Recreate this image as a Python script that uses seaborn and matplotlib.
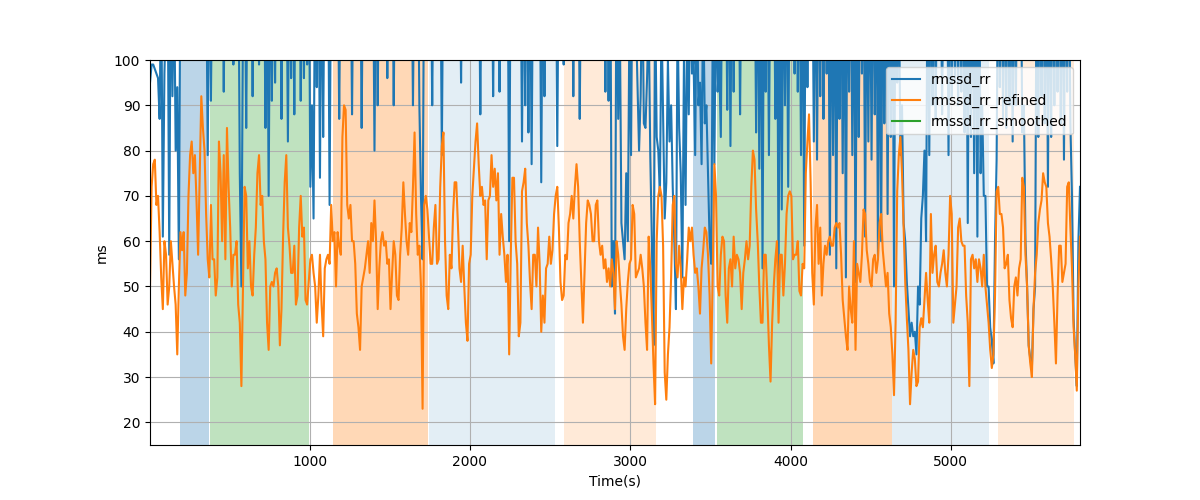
import numpy as np
import matplotlib
matplotlib.use("Agg")
import matplotlib.pyplot as plt
import seaborn as sns

# sampling: first timestamp and interval (s)
t_start = 5
t_step = 10

rmssd_rr_refined = [
    # 5 .. 1005 s
    50, 72, 77, 78, 68, 70, 62, 52, 45, 60, 57, 46, 50, 60, 55, 50, 46, 35, 50, 62,
    58, 62, 48, 53, 70, 79, 82, 75, 79, 69, 57, 75, 92, 85, 80, 66, 56, 52, 68, 56,
    56, 48, 52, 82, 75, 60, 79, 56, 85, 72, 63, 50, 57, 57, 60, 46, 42, 28, 50, 72,
    70, 54, 60, 50, 48, 57, 63, 75, 79, 68, 70, 60, 56, 42, 36, 50, 51, 50, 53, 54,
    50, 37, 45, 61, 73, 79, 63, 59, 53, 53, 59, 46, 48, 63, 70, 61, 63, 47, 46, 51,
    56,
    # 1015 .. 2005 s
    57, 53, 50, 42, 48, 57, 46, 39, 54, 56, 57, 55, 68, 60, 62, 50, 62, 59, 57, 83,
    90, 89, 68, 65, 68, 60, 60, 55, 44, 41, 36, 50, 52, 54, 57, 60, 53, 64, 60, 69,
    60, 45, 54, 60, 62, 59, 60, 55, 56, 45, 53, 60, 57, 48, 47, 57, 63, 73, 66, 60,
    57, 64, 62, 72, 84, 66, 57, 59, 50, 23, 68, 70, 67, 61, 55, 55, 63, 68, 55, 56,
    72, 81, 84, 60, 48, 45, 57, 54, 66, 73, 73, 64, 54, 51, 59, 50, 42, 38, 55, 57,
    # 2015 .. 3005 s
    70, 76, 82, 86, 77, 70, 72, 68, 69, 56, 69, 70, 79, 72, 76, 69, 75, 57, 66, 61,
    57, 51, 57, 35, 57, 74, 74, 60, 55, 39, 42, 71, 73, 76, 64, 59, 51, 45, 57, 57,
    50, 63, 55, 40, 48, 42, 54, 55, 61, 55, 58, 66, 70, 72, 63, 51, 47, 48, 57, 56,
    64, 66, 70, 65, 72, 77, 72, 60, 51, 42, 53, 64, 69, 68, 66, 60, 60, 68, 69, 60,
    57, 59, 54, 56, 51, 54, 50, 56, 53, 45, 60, 57, 51, 46, 39, 36, 45, 51, 55, 56,
    # 3015 .. 4005 s
    68, 66, 52, 53, 54, 57, 54, 50, 42, 36, 61, 54, 44, 33, 24, 60, 70, 72, 70, 59,
    31, 25, 35, 41, 52, 68, 70, 55, 52, 59, 54, 45, 52, 50, 56, 63, 60, 63, 57, 53,
    54, 50, 44, 54, 58, 63, 62, 57, 48, 33, 54, 77, 70, 50, 48, 57, 61, 60, 48, 42,
    54, 56, 50, 61, 54, 57, 56, 53, 45, 53, 56, 60, 56, 59, 72, 80, 78, 67, 60, 50,
    42, 42, 57, 57, 48, 37, 29, 42, 50, 56, 60, 42, 57, 57, 48, 55, 66, 70, 71, 70,
    # 4015 .. 5005 s
    56, 57, 57, 60, 49, 48, 55, 54, 75, 82, 88, 73, 53, 46, 63, 68, 55, 63, 48, 55,
    59, 57, 60, 61, 59, 59, 63, 64, 63, 64, 57, 47, 43, 39, 36, 50, 45, 42, 60, 36,
    55, 53, 51, 57, 67, 66, 58, 55, 51, 50, 56, 57, 53, 56, 64, 66, 58, 54, 50, 53,
    44, 41, 35, 26, 42, 71, 79, 83, 75, 63, 51, 43, 36, 24, 31, 36, 34, 28, 29, 41,
    43, 41, 47, 53, 47, 42, 66, 53, 57, 59, 51, 50, 53, 55, 58, 53, 50, 57, 70, 66,
    # 5015 .. 5805 s
    42, 46, 50, 63, 65, 60, 59, 59, 48, 42, 28, 56, 57, 54, 56, 51, 56, 54, 50, 57,
    50, 46, 42, 36, 32, 35, 48, 71, 72, 66, 66, 63, 54, 55, 57, 47, 43, 41, 50, 52,
    48, 54, 56, 74, 72, 57, 50, 37, 33, 30, 45, 53, 57, 64, 67, 69, 75, 73, 72, 64,
    61, 56, 50, 42, 33, 48, 59, 59, 51, 53, 55, 72, 73, 63, 54, 41, 35, 27, 50, 61,
]

rmssd_rr = [
    # 5 .. 1005 s
    95, 99, 99, 98, 97, 96, 87, 120, 61, 97, 112, 120, 57, 125, 92, 120, 80, 94, 56, 125,
    118, 130, 125, 130, 130, 130, 122, 130, 115, 130, 128, 130, 120, 130, 119, 125, 79, 130, 91, 130,
    108, 130, 114, 130, 102, 130, 93, 130, 116, 130, 105, 130, 99, 130, 108, 130, 75, 50, 110, 130,
    85, 130, 106, 130, 92, 130, 113, 130, 99, 130, 104, 130, 85, 130, 70, 130, 91, 130, 95, 130,
    112, 130, 87, 130, 100, 130, 82, 130, 96, 130, 88, 130, 105, 130, 91, 130, 96, 130, 99, 130,
    72,
    # 1015 .. 2005 s
    90, 65, 130, 94, 130, 74, 130, 83, 130, 112, 130, 68, 130, 110, 130, 115, 130, 87, 130, 110,
    130, 120, 130, 105, 130, 88, 130, 108, 130, 115, 130, 85, 130, 110, 130, 105, 130, 120, 130, 80,
    130, 90, 130, 112, 130, 104, 130, 96, 130, 110, 130, 90, 130, 105, 130, 120, 130, 108, 130, 103,
    130, 110, 130, 90, 130, 101, 130, 90, 70, 56, 130, 105, 130, 115, 130, 90, 130, 110, 130, 110,
    130, 79, 130, 105, 130, 120, 130, 115, 130, 108, 130, 120, 130, 95, 130, 110, 130, 115, 130, 105,
    # 2015 .. 3005 s
    130, 110, 130, 105, 130, 88, 130, 120, 130, 110, 130, 105, 130, 92, 130, 110, 130, 93, 130, 120,
    130, 105, 130, 60, 130, 110, 130, 120, 130, 105, 130, 82, 130, 90, 130, 84, 130, 77, 130, 110,
    130, 115, 130, 73, 130, 92, 130, 108, 130, 112, 130, 105, 130, 81, 130, 110, 130, 99, 130, 120,
    130, 108, 130, 92, 130, 110, 130, 87, 130, 120, 130, 110, 130, 112, 130, 105, 130, 118, 130, 110,
    130, 106, 130, 93, 130, 91, 130, 50, 60, 44, 130, 87, 110, 64, 60, 56, 75, 60, 110, 79,
    # 3015 .. 4005 s
    130, 110, 110, 95, 80, 92, 120, 86, 85, 96, 110, 79, 60, 37, 115, 83, 80, 70, 110, 87,
    65, 73, 100, 82, 90, 72, 60, 45, 110, 85, 75, 52, 100, 68, 110, 88, 120, 97, 100, 79,
    120, 90, 95, 77, 115, 86, 90, 75, 60, 55, 110, 77, 120, 93, 100, 83, 130, 110, 130, 89,
    130, 81, 130, 93, 130, 105, 130, 88, 130, 115, 130, 110, 130, 105, 130, 120, 130, 84, 130, 76,
    130, 54, 130, 93, 130, 79, 130, 110, 130, 87, 130, 51, 130, 67, 130, 90, 130, 72, 130, 110,
    # 4015 .. 5005 s
    130, 97, 130, 93, 130, 79, 130, 59, 130, 94, 130, 110, 130, 82, 130, 78, 130, 92, 130, 87,
    130, 97, 130, 57, 130, 79, 130, 54, 130, 87, 130, 75, 130, 52, 130, 93, 130, 79, 130, 51,
    130, 83, 130, 97, 130, 61, 130, 82, 130, 78, 130, 88, 130, 56, 130, 60, 130, 86, 130, 66,
    130, 83, 130, 50, 130, 95, 120, 79, 90, 64, 60, 51, 45, 39, 42, 39, 40, 35, 50, 46,
    65, 70, 80, 60, 130, 79, 130, 90, 130, 87, 130, 110, 130, 88, 130, 110, 130, 79, 130, 92,
    # 5015 .. 5805 s
    130, 95, 130, 90, 130, 93, 130, 84, 130, 64, 130, 83, 130, 75, 130, 61, 130, 75, 90, 70,
    70, 50, 50, 41, 38, 33, 60, 78, 130, 94, 130, 87, 130, 85, 130, 90, 130, 82, 130, 90,
    130, 110, 130, 84, 90, 60, 50, 37, 34, 32, 45, 50, 130, 83, 130, 92, 130, 86, 130, 72,
    130, 83, 130, 90, 130, 93, 130, 86, 130, 78, 130, 93, 130, 86, 70, 43, 35, 28, 60, 72,
]

rmssd_rr_smoothed = []  # no visible values in the reference

# shaded periods (start, end, colour, alpha)
span_starts = [194, 377, 1144, 1744, 2588, 3394, 3540, 4140, 4633, 5292]
span_ends = [373, 996, 1740, 2529, 3160, 3531, 4077, 4633, 5240, 5769]
span_colors = ["C0", "C2", "C1", "C0", "C1", "C0", "C2", "C1", "C0", "C1"]
span_alphas = [0.3, 0.3, 0.3, 0.12, 0.16, 0.3, 0.3, 0.3, 0.12, 0.16]

t = t_start + t_step * np.arange(len(rmssd_rr_refined))

fig, ax = plt.subplots(figsize=(12, 5), dpi=100)

for s, e, c, a in zip(span_starts, span_ends, span_colors, span_alphas):
    ax.axvspan(s, e, color=c, alpha=a, linewidth=0)

sns.lineplot(x=t, y=rmssd_rr, ax=ax, color="C0", label="rmssd_rr",
             estimator=None, linewidth=1.5)
sns.lineplot(x=t, y=rmssd_rr_refined, ax=ax, color="C1", label="rmssd_rr_refined",
             estimator=None, linewidth=1.5)
ax.plot(t[:len(rmssd_rr_smoothed)], rmssd_rr_smoothed, color="C2",
        label="rmssd_rr_smoothed", linewidth=1.5)

ax.set_xlim(t[0], t[-1])
ax.set_ylim(15, 100)
ax.grid(True)
ax.set_xlabel("Time(s)")
ax.set_ylabel("ms")
ax.legend(loc="upper right")

fig.savefig("out.png", dpi=100)
